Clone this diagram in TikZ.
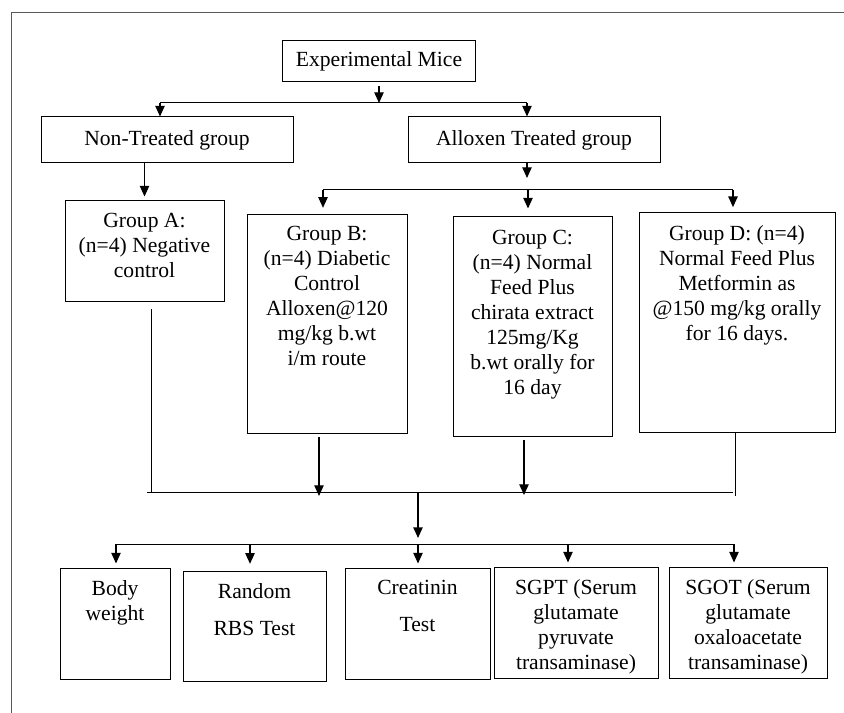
\documentclass[tikz,border=0pt]{standalone}
\usepackage{fontspec}
\setmainfont{Liberation Serif}
\usetikzlibrary{arrows.meta}

\tikzset{every picture/.style={line width=0.75pt}}
\tikzset{
	box/.style 2 args={draw, rectangle, inner sep=0pt, minimum width=#1*0.75pt, minimum height=#2*0.75pt},
	boxtext/.style={anchor=north, align=center, inner sep=0pt},
	arr/.style={line width=1pt, -{Triangle[length=8pt,width=7pt]}},
}

\begin{document}
\begin{tikzpicture}[x=0.75pt,y=0.75pt,yscale=-1,xscale=1, every node/.style={font=\fontsize{16.2}{18.75}\selectfont}]
	\useasboundingbox (0,0) rectangle (844,713);

	%Straight Lines (frame)
	\draw [color=black!65] (844,13) -- (11,13) -- (11,713) ;

	%Shape: Rectangle
	\node [box={193}{41}] (mice) at (379,61.5) {Experimental Mice};
	%Shape: Rectangle
	\node [box={252}{46}] (nontreat) at (167,140) {Non-Treated group};
	%Shape: Rectangle
	\node [box={252}{46}] (alloxen) at (534,140) {Alloxen Treated group};

	%Shape: Rectangle
	\node [box={159}{101}] (grpA) at (144.5,251.5) {};
	%Shape: Rectangle
	\node [box={160}{219}] (grpB) at (327,324.5) {};
	%Shape: Rectangle
	\node [box={159}{220}] (grpC) at (532.5,327) {};
	%Shape: Rectangle
	\node [box={196}{220}] (grpD) at (737,323) {};

	%Shape: Rectangle
	\node [box={110}{111}] (bw) at (115,623.5) {};
	%Shape: Rectangle
	\node [box={143}{110}] (rbs) at (254.5,626) {};
	%Shape: Rectangle
	\node [box={145}{111}] (crt) at (417.5,623.5) {};
	%Shape: Rectangle
	\node [box={164}{111}] (sgpt) at (576,622.5) {};
	%Shape: Rectangle
	\node [box={158}{111}] (sgot) at (748,622.5) {};

	% Text Node
	\node [boxtext] (txtA) at (144.5,213) {Group A:\\(n=4) Negative\\control};
	% Text Node
	\node [boxtext] (txtB) at (327,226) {Group B:\\(n=4) Diabetic\\Control\\Alloxen@120\\mg/kg b.wt\\i/m route};
	% Text Node
	\node [boxtext] (txtC) at (532.5,229.5) {Group C:\\(n=4) Normal\\Feed Plus\\chirata extract\\125mg/Kg\\b.wt orally for\\16 day};
	% Text Node
	\node [boxtext] (txtD) at (737,225.5) {Group D: (n=4)\\Normal Feed Plus\\Metformin as\\@150 mg/kg orally\\for 16 days.};
	% Text Node
	\node [boxtext] (txtbw) at (115,580) {Body\\weight};
	% Text Node
	\node [boxtext] (txtrbs) at (254.5,583.5) {Random\\[9pt]RBS Test};
	% Text Node
	\node [boxtext] (txtcrt) at (417.5,579.5) {Creatinin\\[9pt]Test};
	% Text Node
	\node [boxtext] (txtsgpt) at (576,579.5) {SGPT (Serum\\glutamate\\pyruvate\\transaminase)};
	% Text Node
	\node [boxtext] (txtsgot) at (748,579.5) {SGOT (Serum\\glutamate\\oxaloacetate\\transaminase)};

	% junction points
	\coordinate (j1) at (379,103);
	\coordinate (b1l) at (160,103);
	\coordinate (b1r) at (527,103);
	\coordinate (a1) at (527,178);
	\coordinate (b2l) at (323,190);
	\coordinate (b2m) at (528,190);
	\coordinate (b2r) at (733,190);
	\coordinate (dA) at (151,493);
	\coordinate (dB) at (319,496);
	\coordinate (dC) at (524,495);
	\coordinate (dD) at (735,496);
	\coordinate (b3l) at (147,493);
	\coordinate (b3r) at (733,493);
	\coordinate (j3) at (418,493);
	\coordinate (j4) at (418,538);
	\coordinate (b4l) at (116,544);
	\coordinate (b4r) at (734,544);
	\coordinate (t2) at (250,544);
	\coordinate (t3) at (418,544);
	\coordinate (t4) at (568,544);

	%Straight Lines
	\draw [arr, shorten <=3pt] (mice.south) -- (j1) ;
	\draw (b1l) -- (b1r) ;
	\draw [arr] (b1l) -- (b1l |- nontreat.north) ;
	\draw [arr] (b1r) -- (b1r |- alloxen.north) ;
	\draw [arr, shorten >=3pt] (grpA.north |- nontreat.south) -- (grpA.north) ;
	\draw [arr] (a1 |- alloxen.south) -- (a1) ;

	%Straight Lines
	\draw (b2l) -- (b2r) ;
	\draw [arr, shorten >=5pt] (b2l) -- (b2l |- grpB.north) ;
	\draw [arr, shorten >=6pt] (b2m) -- (b2m |- grpC.north) ;
	\draw [arr, shorten >=4pt] (b2r) -- (b2r |- grpD.north) ;

	%Straight Lines
	\draw [shorten <=5pt] (dA |- grpA.south) -- (dA) ;
	\draw [arr, shorten <=2pt] (dB |- grpB.south) -- (dB) ;
	\draw [arr, shorten <=2pt] (dC |- grpC.south) -- (dC) ;
	\draw (dD |- grpD.south) -- (dD) ;
	\draw (b3l) -- (b3r) ;
	\draw [arr] (j3) -- (j4) ;

	%Straight Lines
	\draw (b4l) -- (b4r) ;
	\draw [arr, shorten >=3pt] (b4l) -- (b4l |- bw.north) ;
	\draw [arr, shorten >=5pt] (t2) -- (t2 |- rbs.north) ;
	\draw [arr, shorten >=3pt] (t3) -- (t3 |- crt.north) ;
	\draw [arr, shorten >=3pt] (t4) -- (t4 |- sgpt.north) ;
	\draw [arr, shorten >=3pt] (b4r) -- (b4r |- sgot.north) ;

\end{tikzpicture}
\end{document}
